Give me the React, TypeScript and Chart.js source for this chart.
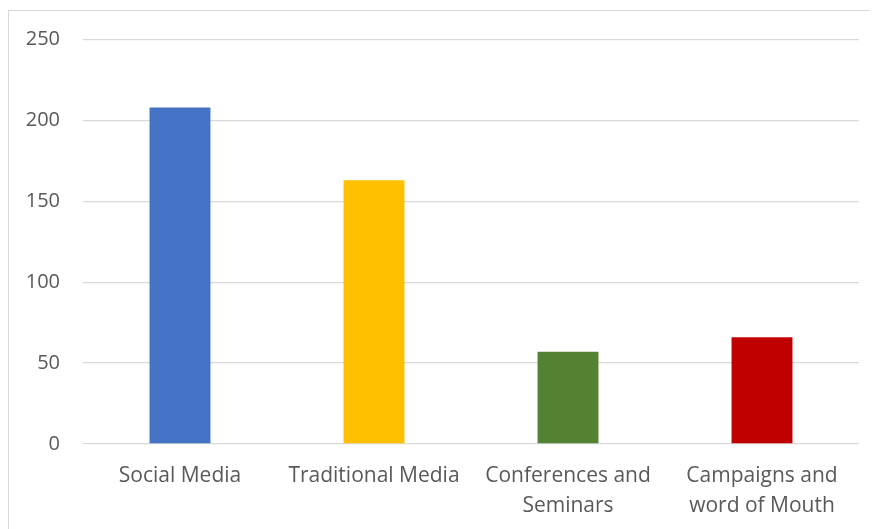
import React, { useEffect, useRef } from "react";
import { Chart, registerables } from "chart.js";

Chart.register(...registerables);

const categories: string[][] = [
  ["Social Media"],
  ["Traditional Media"],
  ["Conferences and", "Seminars"],
  ["Campaigns and", "word of Mouth"],
];
const values: number[] = [208, 163, 57, 66];
const barColors: string[] = ["#4472C4", "#FFC000", "#548235", "#C00000"];
const yMin = 0;
const yMax = 250;
const yStep = 50;

export default function App() {
  const ref = useRef<HTMLCanvasElement | null>(null);
  useEffect(() => {
    if (!ref.current) return;
    const family = "'Open Sans', 'Liberation Sans', sans-serif";
    const chart = new Chart(ref.current, {
      type: "bar",
      data: {
        labels: categories,
        datasets: [
          {
            data: values,
            backgroundColor: barColors,
            borderWidth: 0,
            categoryPercentage: 1,
            barPercentage: 0.314,
          },
        ],
      },
      options: {
        animation: false,
        responsive: false,
        maintainAspectRatio: false,
        layout: { padding: { top: 28.5, right: 18, left: 0, bottom: 0 } },
        plugins: { legend: { display: false }, tooltip: { enabled: false } },
        scales: {
          x: {
            offset: true,
            grid: { display: false, drawTicks: false },
            border: { display: false },
            ticks: {
              color: "#595959",
              font: { family, size: 21, lineHeight: 1.43 },
              padding: 17,
              maxRotation: 0,
              autoSkip: false,
            },
            afterFit: (s: any) => {
              s.height = 84;
              s.paddingLeft = 0;
              s.paddingRight = 0;
            },
          },
          y: {
            min: yMin,
            max: yMax,
            grid: { color: "#d9d9d9", lineWidth: 1.3, drawTicks: false },
            border: { display: false },
            ticks: { stepSize: yStep, color: "#595959", font: { family, size: 20 }, padding: 23 },
            afterFit: (s: any) => {
              s.width = 74;
              s.paddingTop = 0;
              s.paddingBottom = 0;
            },
          },
        },
      },
    });
    return () => chart.destroy();
  }, []);
  return (
    <div
      style={{
        width: 870,
        height: 519,
        marginTop: 2,
        borderLeft: "1.5px solid #d9d9d9",
        borderTop: "1.5px solid #d9d9d9",
        boxSizing: "border-box",
        overflow: "hidden",
        background: "#fff",
      }}
    >
      <canvas ref={ref} width={868} height={517} style={{ display: "block" }} />
    </div>
  );
}
